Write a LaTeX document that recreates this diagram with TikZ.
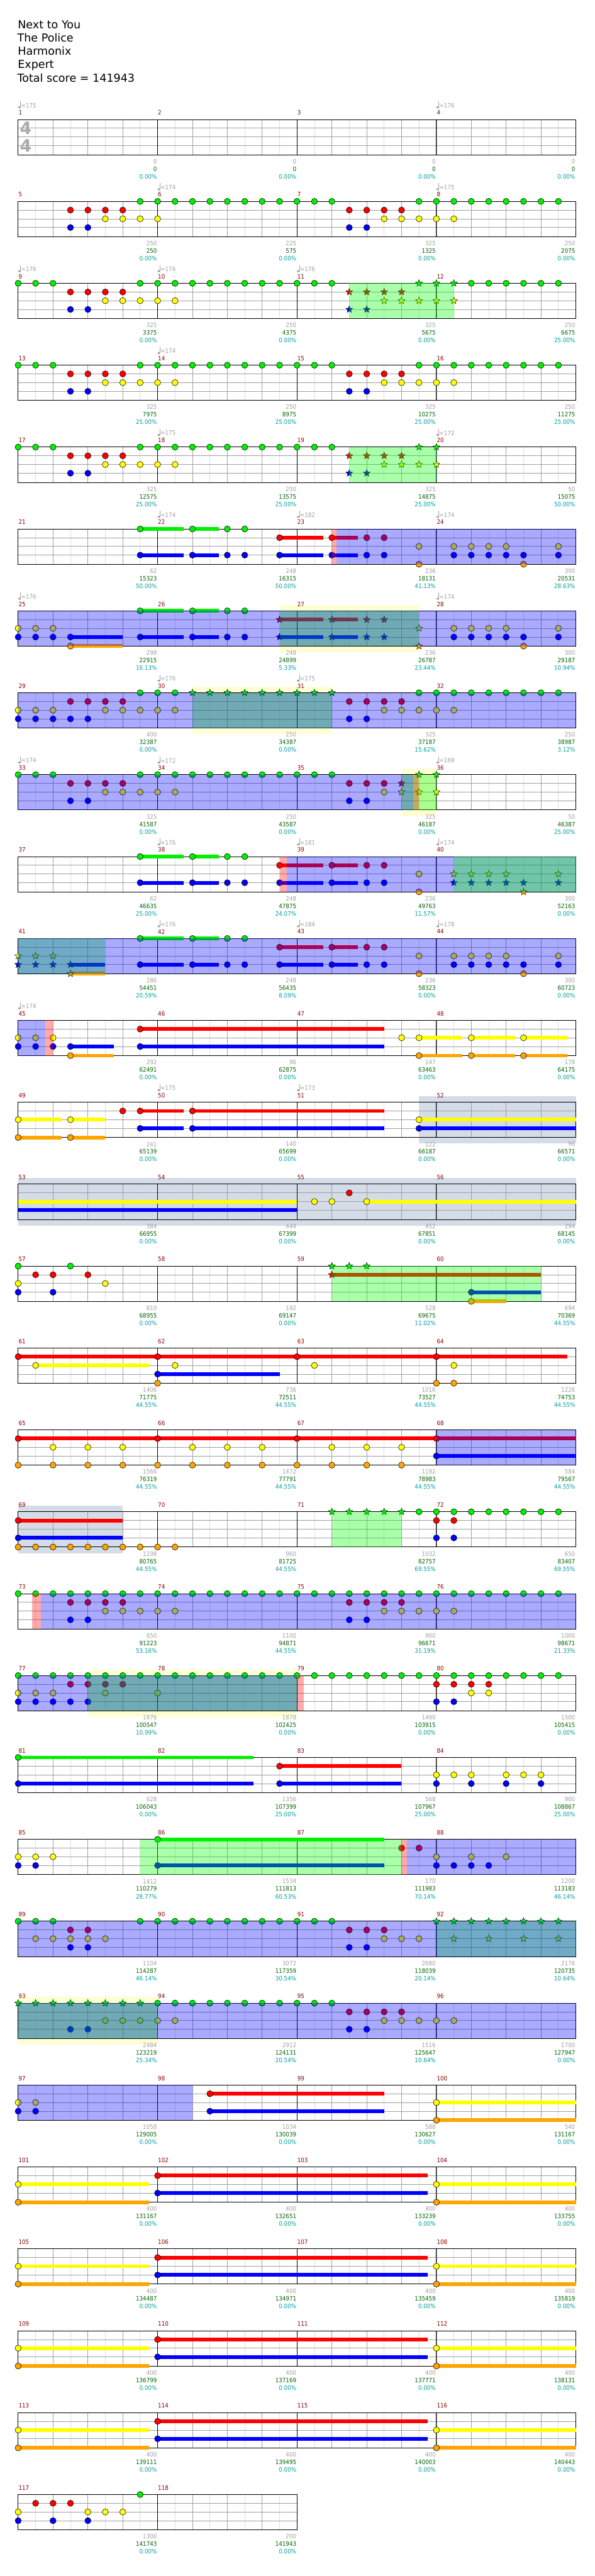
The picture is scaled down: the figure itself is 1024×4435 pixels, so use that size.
\documentclass[tikz,border=0pt]{standalone}
\usepackage{fontspec}
\setmainfont{DejaVu Sans}
\newfontfamily\numf[FakeStretch=0.9]{DejaVu Sans}
\newfontfamily\tsf{DejaVu Sans Bold}
\usetikzlibrary{shapes.geometric}
\definecolor{cG}{RGB}{0,240,0}
\definecolor{cR}{RGB}{255,0,0}
\definecolor{cY}{RGB}{255,255,0}
\definecolor{cB}{RGB}{0,0,255}
\definecolor{cO}{RGB}{255,165,0}
\definecolor{lgc}{RGB}{222,222,222}
\definecolor{dgc}{RGB}{160,160,160}
\definecolor{pY}{RGB}{255,255,212}
\definecolor{pS}{RGB}{212,220,232}
\definecolor{mnc}{RGB}{139,0,0}
\definecolor{s1c}{RGB}{160,160,160}
\definecolor{s2c}{RGB}{0,100,0}
\definecolor{s3c}{RGB}{0,160,160}
\definecolor{tgc}{RGB}{160,160,160}
\newcommand\nG[1]{\foreach \k in {#1}{\node[nt,fill=cG] at ({30*\k},0){};}}
\newcommand\nR[1]{\foreach \k in {#1}{\node[nt,fill=cR] at ({30*\k},15){};}}
\newcommand\nY[1]{\foreach \k in {#1}{\node[nt,fill=cY] at ({30*\k},30){};}}
\newcommand\nB[1]{\foreach \k in {#1}{\node[nt,fill=cB] at ({30*\k},45){};}}
\newcommand\nO[1]{\foreach \k in {#1}{\node[nt,fill=cO] at ({30*\k},60.7){};}}
\newcommand\sG[1]{\foreach \k in {#1}{\node[stn,fill=cG] at ({30*\k},0){};}}
\newcommand\sR[1]{\foreach \k in {#1}{\node[stn,fill=cR] at ({30*\k},15){};}}
\newcommand\sY[1]{\foreach \k in {#1}{\node[stn,fill=cY] at ({30*\k},30){};}}
\newcommand\sB[1]{\foreach \k in {#1}{\node[stn,fill=cB] at ({30*\k},45){};}}
\newcommand\sO[1]{\foreach \k in {#1}{\node[stn,fill=cO] at ({30*\k},60.7){};}}
\newcommand\su[4]{\fill[#1] ({30*#3},{#2-3.2}) rectangle ({30*#4},{#2+3.2});}
\newcommand\oB[2]{\fill[cB,opacity=0.333] ({30*#1},0) rectangle ({30*#2},60.7);}
\newcommand\oG[2]{\fill[green,opacity=0.333] ({30*#1},0) rectangle ({30*#2},60.7);}
\newcommand\oR[2]{\fill[cR,opacity=0.333] ({30*#1},0) rectangle ({30*#2},60.7);}
\newcommand\eY[2]{\fill[pY] ({30*#1},-10.5) rectangle ({30*#2},71.2);}
\newcommand\eS[2]{\fill[pS] ({30*#1},-10.5) rectangle ({30*#2},71.2);}
\newcommand\grid[1]{%
  \foreach \i in {1,...,\numexpr 8*#1\relax}{\draw[lgc,line width=0.8pt] ({30*\i},0) -- ({30*\i},60.7);}
  \foreach \i in {1,...,\numexpr 4*#1\relax}{\draw[dgc,line width=0.8pt] ({60*\i},0) -- ({60*\i},60.7);}
  \foreach \yy in {15,30,45}{\draw[dgc,line width=0.8pt] (0,\yy) -- ({240*#1},\yy);}
  \foreach \i in {1,...,#1}{\draw[black,line width=0.9pt] ({240*\i},0) -- ({240*\i},60.7);}
  \draw[black,line width=0.9pt] (0,0) rectangle ({240*#1},60.7);}
\newcommand\Ms[5]{%
  \node[mn,anchor=west] at ({240*#1+0.5},-11.7) {#2};
  \node[sa,anchor=east] at ({240*#1+239},72.3) {#3};
  \node[sb,anchor=east] at ({240*#1+239},85.3) {#4};
  \node[sc,anchor=east] at ({240*#1+239},98.3) {#5\%};}
\newcommand\Tm[2]{%
  \fill[tgc] ({240*#1+2.2},-20.8) ellipse (2.3 and 1.7);
  \draw[tgc,line width=0.8pt] ({240*#1+4.2},-20.8) -- ({240*#1+4.2},-31.3);
  \node[tmp,anchor=west] at ({240*#1+5},-24.2) {=#2};}
\newcommand\RS[1]{\pgfmathsetmacro\ry{205.7+141*(#1-1)}}
\begin{document}
\begin{tikzpicture}[x=1pt,y=-1pt,
  nt/.style={circle,draw=black,line width=0.6pt,minimum size=10.6pt,inner sep=0pt},
  stn/.style={star,star points=5,star point ratio=2.3,draw=black,line width=0.5pt,minimum size=12.5pt,inner sep=0pt},
  mn/.style={text=mnc,inner sep=0pt,font=\numf\fontsize{10.5}{12}\selectfont},
  sa/.style={text=s1c,inner sep=0pt,font=\numf\fontsize{10.5}{12}\selectfont},
  sb/.style={text=s2c,inner sep=0pt,font=\numf\fontsize{10.5}{12}\selectfont},
  sc/.style={text=s3c,inner sep=0pt,font=\numf\fontsize{10.5}{12}\selectfont},
  tmp/.style={text=tgc,inner sep=0pt,font=\numf\fontsize{10.5}{12}\selectfont},
  ttl/.style={anchor=base west,inner sep=0pt,font=\fontsize{19}{23}\selectfont}]
\useasboundingbox (0,0) rectangle (1024,4435);
\fill[white] (0,0) rectangle (1024,4435);
\node[ttl] (t1) at (30.5,49) {Next to You};
\node[ttl] (t2) at (29.7,72) {The Police};
\node[ttl] (t3) at (30.5,95) {Harmonix};
\node[ttl] (t4) at (30.5,118) {Expert};
\node[ttl] (t5) at (29.7,141) {Total score = 141943};
% row 1
\RS{1}\begin{scope}[shift={(31.3,\ry)}]
\grid{4}
\node[text={rgb,255:red,170;green,170;blue,170},inner sep=0pt,font=\tsf\fontsize{29}{30}\selectfont] at (13,15.3) {4};
\node[text={rgb,255:red,170;green,170;blue,170},inner sep=0pt,font=\tsf\fontsize{29}{30}\selectfont] at (13,45) {4};
\Ms{0}{1}{0}{0}{0.00}\Ms{1}{2}{0}{0}{0.00}\Ms{2}{3}{0}{0}{0.00}\Ms{3}{4}{0}{0}{0.00}
\Tm{0}{175}\Tm{3}{176}
\end{scope}
% row 2
\RS{2}\begin{scope}[shift={(31.3,\ry)}]
\grid{4}
\nG{7,...,18}\nG{23,...,31}
\nR{3,4,5,6,19,20,21,22}
\nY{5,6,7,8,21,22,23,24,25}
\nB{3,4,19,20}
\Ms{0}{5}{250}{250}{0.00}\Ms{1}{6}{225}{575}{0.00}\Ms{2}{7}{325}{1325}{0.00}\Ms{3}{8}{250}{2075}{0.00}
\Tm{1}{174}\Tm{3}{175}
\end{scope}
% row 3
\RS{3}\begin{scope}[shift={(31.3,\ry)}]
\grid{4}
\nG{0,1,2}\nG{7,...,18}\sG{23,24,25}\nG{26,...,31}
\nR{3,4,5,6}\sR{19,20,21,22}
\nY{5,...,9}\sY{21,...,25}
\nB{3,4}\sB{19,20}
\oG{19}{25}
\Ms{0}{9}{325}{3375}{0.00}\Ms{1}{10}{250}{4375}{0.00}\Ms{2}{11}{325}{5675}{0.00}\Ms{3}{12}{250}{6675}{25.00}
\Tm{0}{176}\Tm{1}{176}\Tm{2}{176}
\end{scope}
% row 4
\RS{4}\begin{scope}[shift={(31.3,\ry)}]
\grid{4}
\nG{0,1,2}\nG{7,...,18}\nG{23,...,31}
\nR{3,4,5,6,19,20,21,22}
\nY{5,...,9}\nY{21,...,25}
\nB{3,4,19,20}
\Ms{0}{13}{325}{7975}{25.00}\Ms{1}{14}{250}{8975}{25.00}\Ms{2}{15}{325}{10275}{25.00}\Ms{3}{16}{250}{11275}{25.00}
\Tm{1}{174}
\end{scope}
% row 5
\RS{5}\begin{scope}[shift={(31.3,\ry)}]
\grid{4}
\nG{0,1,2}\nG{7,...,18}\sG{23,24}
\nR{3,4,5,6}\sR{19,20,21,22}
\nY{5,...,9}\sY{21,...,24}
\nB{3,4}\sB{19,20}
\oG{19}{24}
\Ms{0}{17}{325}{12575}{25.00}\Ms{1}{18}{250}{13575}{25.00}\Ms{2}{19}{325}{14875}{25.00}\Ms{3}{20}{50}{15075}{50.00}
\Tm{1}{175}\Tm{3}{172}
\end{scope}
% row 6
\RS{6}\begin{scope}[shift={(31.3,\ry)}]
\grid{4}
\su{cG}{0}{7}{9.5}\su{cG}{0}{10}{11.5}\nG{7,10,12,13}
\su{cB}{45}{7}{9.5}\su{cB}{45}{10}{11.5}\nB{7,10,12,13}
\su{cR}{15}{15}{17.5}\su{cR}{15}{18}{19.5}\nR{15,18,20,21}
\su{cB}{45}{15}{17.5}\su{cB}{45}{18}{19.5}\nB{15,18,20,21}
\nY{23,25,26,27,28,31}
\nB{25,...,29}\nB{31}
\nO{23,29}
\oR{18}{18.27}\oB{18.27}{32}
\Ms{0}{21}{62}{15323}{50.00}\Ms{1}{22}{248}{16315}{50.00}\Ms{2}{23}{236}{18131}{41.13}\Ms{3}{24}{300}{20531}{28.63}
\Tm{1}{174}\Tm{2}{182}\Tm{3}{174}
\end{scope}
% row 7
\RS{7}\begin{scope}[shift={(31.3,\ry)}]
\eY{15}{23}
\grid{4}
\su{cG}{0}{7}{9.5}\su{cG}{0}{10}{11.5}\nG{7,10,12,13}
\nY{0,1,2}\sY{23}\nY{25,...,28}\nY{31}
\su{cB}{45}{3}{6}\nB{0,1,2,3}
\su{cB}{45}{7}{9.5}\su{cB}{45}{10}{11.5}\nB{7,10,12,13}
\su{cB}{45}{15}{17.5}\su{cB}{45}{18}{19.5}\sB{15,18,20,21}
\nB{25,...,29}\nB{31}
\su{cO}{60.7}{3}{6}\nO{3}\sO{23}\nO{29}
\su{cR}{15}{15}{17.5}\su{cR}{15}{18}{19.5}\sR{15,18,20,21}
\oG{15}{23}\oB{0}{32}
\Ms{0}{25}{298}{22915}{16.13}\Ms{1}{26}{248}{24899}{5.33}\Ms{2}{27}{236}{26787}{23.44}\Ms{3}{28}{300}{29187}{10.94}
\Tm{0}{176}\Tm{3}{174}
\end{scope}
% row 8
\RS{8}\begin{scope}[shift={(31.3,\ry)}]
\eY{10}{18}
\grid{4}
\nG{7,8,9}\sG{10,...,18}\nG{23,...,31}
\nR{3,...,6}\nR{19,...,22}
\nY{0,1,2}\nY{5,...,9}\nY{21,...,25}
\nB{0,...,4}\nB{19,20}
\oG{10}{18}\oB{0}{32}
\Ms{0}{29}{400}{32387}{0.00}\Ms{1}{30}{250}{34387}{0.00}\Ms{2}{31}{325}{37187}{15.62}\Ms{3}{32}{250}{38987}{3.12}
\Tm{1}{176}\Tm{2}{175}
\end{scope}
% row 9
\RS{9}\begin{scope}[shift={(31.3,\ry)}]
\eY{22}{24}
\grid{4}
\nG{0,1,2}\nG{7,...,18}\sG{23,24}
\nR{3,...,6}\nR{19,20,21}\sR{22}
\nY{5,...,9}\nY{21}\sY{22,23,24}
\nB{3,4,19,20}
\oG{22}{24}\oB{0}{22.66}\oR{22.66}{23}
\Ms{0}{33}{325}{41587}{0.00}\Ms{1}{34}{250}{43587}{0.00}\Ms{2}{35}{325}{46187}{0.00}\Ms{3}{36}{50}{46387}{25.00}
\Tm{0}{174}\Tm{1}{172}\Tm{3}{169}
\end{scope}
% row 10
\RS{10}\begin{scope}[shift={(31.3,\ry)}]
\grid{4}
\su{cG}{0}{7}{9.5}\su{cG}{0}{10}{11.5}\nG{7,10,12,13}
\su{cB}{45}{7}{9.5}\su{cB}{45}{10}{11.5}\nB{7,10,12,13}
\su{cR}{15}{15}{17.5}\su{cR}{15}{18}{19.5}\nR{15,18,20,21}
\su{cB}{45}{15}{17.5}\su{cB}{45}{18}{19.5}\nB{15,18,20,21}
\nY{23}\sY{25,...,28}\sY{31}
\sB{25,...,29}\sB{31}
\nO{23}\sO{29}
\oR{15}{15.4}\oB{15.4}{32}\oG{25}{32}
\Ms{0}{37}{62}{46635}{25.00}\Ms{1}{38}{248}{47875}{24.07}\Ms{2}{39}{236}{49763}{11.57}\Ms{3}{40}{300}{52163}{0.00}
\Tm{1}{176}\Tm{2}{181}\Tm{3}{174}
\end{scope}
% row 11
\RS{11}\begin{scope}[shift={(31.3,\ry)}]
\grid{4}
\su{cG}{0}{7}{9.5}\su{cG}{0}{10}{11.5}\nG{7,10,12,13}
\sY{0,1,2}\nY{23,25,26,27,28,31}
\su{cB}{45}{3}{5}\sB{0,1,2,3}
\su{cB}{45}{7}{9.5}\su{cB}{45}{10}{11.5}\su{cB}{45}{15}{17.5}\su{cB}{45}{18}{19.5}
\nB{7,10,12,13,15,18,20,21}\nB{25,...,29}\nB{31}
\su{cO}{60.7}{3}{5}\sO{3}\nO{23,29}
\su{cR}{15}{15}{17.5}\su{cR}{15}{18}{19.5}\nR{15,18,20,21}
\oG{0}{5}\oB{0}{32}
\Ms{0}{41}{286}{54451}{20.59}\Ms{1}{42}{248}{56435}{8.09}\Ms{2}{43}{236}{58323}{0.00}\Ms{3}{44}{300}{60723}{0.00}
\Tm{1}{176}\Tm{2}{184}\Tm{3}{178}
\end{scope}
% row 12
\RS{12}\begin{scope}[shift={(31.3,\ry)}]
\grid{4}
\nY{0,1,2,22}
\su{cY}{30}{23}{25.5}\su{cY}{30}{26}{28.5}\su{cY}{30}{29}{31.5}\nY{23,26,29}
\su{cB}{45}{3}{5.5}\su{cB}{45}{7}{21}\nB{0,1,2,3,7}
\su{cO}{60.7}{3}{5.5}\su{cO}{60.7}{23}{25.5}\su{cO}{60.7}{26}{28.5}\su{cO}{60.7}{29}{31.5}\nO{3,23,26,29}
\su{cR}{15}{7}{21}\nR{7}
\oB{0}{1.55}\oR{1.55}{2}
\Ms{0}{45}{292}{62491}{0.00}\Ms{1}{46}{96}{62875}{0.00}\Ms{2}{47}{147}{63463}{0.00}\Ms{3}{48}{178}{64175}{0.00}
\Tm{0}{174}
\end{scope}
% row 13
\RS{13}\begin{scope}[shift={(31.3,\ry)}]
\eS{23}{32}
\grid{4}
\su{cY}{30}{0}{2.5}\su{cY}{30}{3}{5}\su{cY}{30}{23}{32}\nY{0,3,23}
\su{cO}{60.7}{0}{2.5}\su{cO}{60.7}{3}{5}\nO{0,3}
\su{cR}{15}{7}{9.5}\su{cR}{15}{10}{21}\nR{6,7,10}
\su{cB}{45}{7}{9.5}\su{cB}{45}{10}{21}\su{cB}{45}{23}{32}\nB{7,10,23}
\Ms{0}{49}{241}{65139}{0.00}\Ms{1}{50}{140}{65699}{0.00}\Ms{2}{51}{122}{66187}{0.00}\Ms{3}{52}{96}{66571}{0.00}
\Tm{1}{175}\Tm{2}{173}
\end{scope}
% row 14
\RS{14}\begin{scope}[shift={(31.3,\ry)}]
\eS{0}{32}
\grid{4}
\su{cY}{30}{0}{16}\su{cB}{45}{0}{16}
\nY{17,18}\nR{19}\su{cY}{30}{20}{32}\nY{20}
\Ms{0}{53}{384}{66955}{0.00}\Ms{1}{54}{444}{67399}{0.00}\Ms{2}{55}{452}{67851}{0.00}\Ms{3}{56}{294}{68145}{0.00}
\end{scope}
% row 15
\RS{15}\begin{scope}[shift={(31.3,\ry)}]
\grid{4}
\nG{0,3}\nR{1,2,4}\nY{0,5}\nB{0,2}
\su{cR}{15}{18}{30}\sR{18}\sG{18,19,20}\su{cB}{45}{26}{30}\nB{26}\su{cO}{60.7}{26}{28}\nO{26}
\oG{18}{30}
\Ms{0}{57}{810}{68955}{0.00}\Ms{1}{58}{192}{69147}{0.00}\Ms{2}{59}{528}{69675}{11.02}\Ms{3}{60}{694}{70369}{44.55}
\end{scope}
% row 16
\RS{16}\begin{scope}[shift={(31.3,\ry)}]
\grid{4}
\su{cR}{15}{0}{31.5}\nR{0,8,16,24}
\su{cY}{30}{1}{7.5}\nY{1,9,17,25}
\su{cB}{45}{8}{15}\nB{8}\nO{8,24,25}
\Ms{0}{61}{1406}{71775}{44.55}\Ms{1}{62}{736}{72511}{44.55}\Ms{2}{63}{1016}{73527}{44.55}\Ms{3}{64}{1226}{74753}{44.55}
\end{scope}
% row 17
\RS{17}\begin{scope}[shift={(31.3,\ry)}]
\grid{4}
\su{cR}{15}{0}{32}\nR{0,8,16,24}
\nY{2,4,6,10,12,14,18,20,22}
\nO{0,2,4,6,8,10,12,14,16,18,20,22}
\su{cB}{45}{24}{32}\nB{24}
\oB{24}{32}
\Ms{0}{65}{1566}{76319}{44.55}\Ms{1}{66}{1472}{77791}{44.55}\Ms{2}{67}{1192}{78983}{44.55}\Ms{3}{68}{584}{79567}{44.55}
\end{scope}
% row 18
\RS{18}\begin{scope}[shift={(31.3,\ry)}]
\eS{0}{6}
\grid{4}
\su{cR}{15}{0}{6}\su{cB}{45}{0}{6}\nR{0}\nB{0}
\nO{0,...,9}
\sG{18,...,22}\nG{23,...,31}\nR{24,25}\nB{24,25}
\oG{18}{22}
\Ms{0}{69}{1198}{80765}{44.55}\Ms{1}{70}{960}{81725}{44.55}\Ms{2}{71}{1032}{82757}{69.55}\Ms{3}{72}{650}{83407}{69.55}
\end{scope}
% row 19
\RS{19}\begin{scope}[shift={(31.3,\ry)}]
\grid{4}
\nG{0,...,31}\nR{3,4,5,6,19,20,21,22}\nY{5,...,9}\nY{21,...,25}\nB{3,4,19,20}
\oR{0.8}{1.3}\oB{1.3}{32}
\Ms{0}{73}{650}{91223}{53.16}\Ms{1}{74}{1100}{94871}{44.55}\Ms{2}{75}{900}{96671}{31.19}\Ms{3}{76}{1000}{98671}{21.33}
\end{scope}
% row 20
\RS{20}\begin{scope}[shift={(31.3,\ry)}]
\eY{4}{16}
\grid{4}
\nG{0,...,22}\nR{3,4,5,6}\nY{0,1,2,5,...,9}\nB{0,...,4}
\nG{23,...,31}\nR{24,25,26,27}\nY{26,27}\nB{24,25}
\oG{4}{16}\oB{0}{16}\oR{16}{16.4}
\Ms{0}{77}{1876}{100547}{10.99}\Ms{1}{78}{1878}{102425}{0.00}\Ms{2}{79}{1490}{103915}{0.00}\Ms{3}{80}{1500}{105415}{0.00}
\end{scope}
% row 21
\RS{21}\begin{scope}[shift={(31.3,\ry)}]
\grid{4}
\su{cG}{0}{0}{13.5}\nG{0}\su{cB}{45}{0}{13.5}\nB{0}
\su{cR}{15}{15}{22}\nR{15}\su{cB}{45}{15}{22}\nB{15}
\nY{24,25,26,28,29,30}\nB{24,26,28,30}
\Ms{0}{81}{628}{106043}{0.00}\Ms{1}{82}{1356}{107399}{25.00}\Ms{2}{83}{568}{107967}{25.00}\Ms{3}{84}{900}{108867}{25.00}
\end{scope}
% row 22
\RS{22}\begin{scope}[shift={(31.3,\ry)}]
\grid{4}
\nY{0,1,2}\nB{0,1}
\su{cG}{0}{8}{21}\nG{8}\su{cB}{45}{8}{21}\nB{8}
\nR{22,23}\nY{24,26,28}\nB{24,25,26,27}
\oG{7}{22}\oR{22}{22.3}\oB{22.3}{32}
\Ms{0}{85}{1412}{110279}{28.77}\Ms{1}{86}{1534}{111813}{60.53}\Ms{2}{87}{170}{111983}{70.14}\Ms{3}{88}{1200}{113183}{46.14}
\end{scope}
% row 23
\RS{23}\begin{scope}[shift={(31.3,\ry)}]
\grid{4}
\nG{0,1,2}\nR{3,4}\nY{1,2,3,4,5}\nB{3,4}
\nG{7,...,18}\nR{19,20,21}\nY{21,22,23}\nB{19,20}
\sG{24,...,31}\sY{25,27,29,31}
\oG{24}{32}\oB{0}{32}
\Ms{0}{89}{1104}{114287}{46.14}\Ms{1}{90}{3072}{117359}{30.54}\Ms{2}{91}{2680}{118039}{20.14}\Ms{3}{92}{2176}{120735}{10.64}
\end{scope}
% row 24
\RS{24}\begin{scope}[shift={(31.3,\ry)}]
\eY{0}{8}
\grid{4}
\sG{0,...,7}\nG{8,...,18}\nR{19,...,22}\nY{5,...,9}\nY{21,...,25}\nB{3,4,19,20}
\oG{0}{8}\oB{0}{32}
\Ms{0}{93}{2484}{123219}{25.34}\Ms{1}{94}{2912}{124131}{20.54}\Ms{2}{95}{1516}{125647}{10.64}\Ms{3}{96}{1700}{127947}{0.00}
\end{scope}
% row 25
\RS{25}\begin{scope}[shift={(31.3,\ry)}]
\grid{4}
\nY{0,1}\nB{0,1}
\su{cR}{15}{11}{21}\nR{11}\su{cB}{45}{11}{21}\nB{11}
\su{cY}{30}{24}{32}\nY{24}\su{cO}{60.7}{24}{32}\nO{24}
\oB{0}{10}
\Ms{0}{97}{1058}{129005}{0.00}\Ms{1}{98}{1034}{130039}{0.00}\Ms{2}{99}{588}{130627}{0.00}\Ms{3}{100}{540}{131167}{0.00}
\end{scope}
% rows 26-29
\foreach \r/\ma/\mb/\mc/\md/\ta/\tb/\tc/\td in {26/101/102/103/104/131167/132651/133239/133755,27/105/106/107/108/134487/134971/135459/135819,28/109/110/111/112/136799/137169/137771/138131,29/113/114/115/116/139111/139495/140003/140443}{%
\pgfmathsetmacro\ry{205.7+141*(\r-1)}
\begin{scope}[shift={(31.3,\ry)}]
\grid{4}
\su{cY}{30}{0}{7.5}\nY{0}\su{cO}{60.7}{0}{7.5}\nO{0}
\su{cR}{15}{8}{23.5}\nR{8}\su{cB}{45}{8}{23.5}\nB{8}
\su{cY}{30}{24}{32}\nY{24}\su{cO}{60.7}{24}{32}\nO{24}
\Ms{0}{\ma}{400}{\ta}{0.00}\Ms{1}{\mb}{400}{\tb}{0.00}\Ms{2}{\mc}{400}{\tc}{0.00}\Ms{3}{\md}{400}{\td}{0.00}
\end{scope}}
% row 30
\RS{30}\begin{scope}[shift={(31.3,\ry)}]
\grid{2}
\nR{1,2,3}\nY{0,4,5,6}\nB{0,2,4}\nG{7}
\Ms{0}{117}{1300}{141743}{0.00}\Ms{1}{118}{200}{141943}{0.00}
\end{scope}
\end{tikzpicture}
\end{document}
